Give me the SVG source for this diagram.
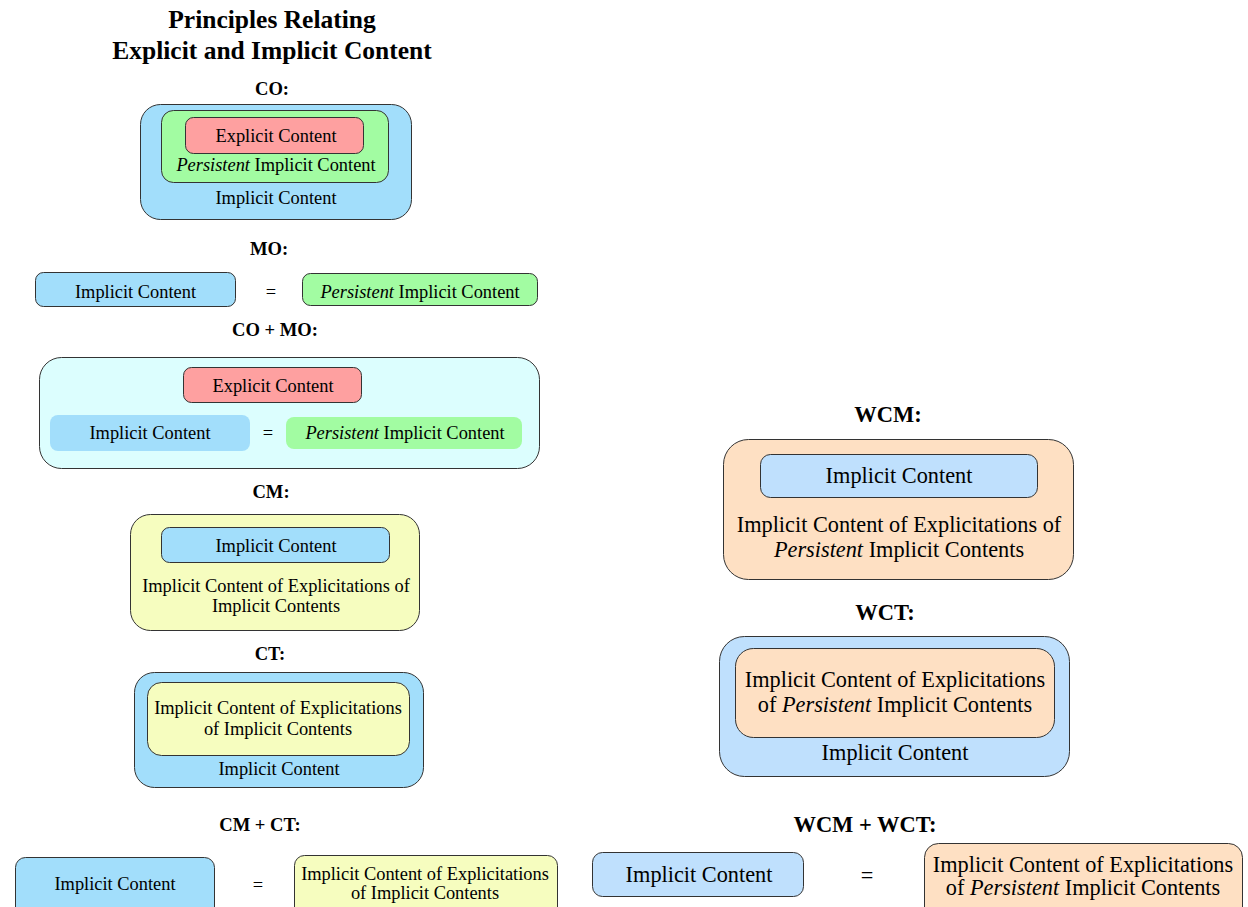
<svg xmlns="http://www.w3.org/2000/svg" width="1248" height="907" viewBox="0 0 1248 907">
<style>
text{font-family:"Liberation Serif","Times New Roman",serif;fill:#000;text-anchor:middle}
.t{font-size:25.5px;font-weight:bold}
.lb{font-size:18.6px;font-weight:bold}
.rb{font-size:22.5px;font-weight:bold}
.l{font-size:18.4px}
.r{font-size:22.3px}
.i{font-style:italic}
.s{stroke:#333;stroke-width:1}
.blue{fill:#a2defb}
.rblue{fill:#bfe0fd}
.green{fill:#a2fca2}
.red{fill:#fea0a0}
.yel{fill:#f6fdbf}
.cyan{fill:#dcfefe}
.peach{fill:#fee0c3}
</style>
<g id="title">
<text class="t" x="272" y="28">Principles Relating</text>
<text class="t" x="272" y="59">Explicit and Implicit Content</text>
</g>
<g id="co">
<text class="lb" x="272" y="95">CO:</text>
<rect class="s blue" x="140.5" y="104.5" width="271" height="115" rx="20"/>
<rect class="s green" x="161.5" y="110.5" width="227" height="72" rx="12"/>
<rect class="s red" x="185.5" y="117.5" width="178" height="36" rx="8"/>
<text class="l" x="276" y="142">Explicit Content</text>
<text class="l" x="276" y="171"><tspan class="i">Persistent</tspan> Implicit Content</text>
<text class="l" x="276" y="204">Implicit Content</text>
</g>
<g id="mo">
<text class="lb" x="269" y="255">MO:</text>
<rect class="s blue" x="35.5" y="272.5" width="200" height="34" rx="8"/>
<text class="l" x="135.5" y="298">Implicit Content</text>
<text class="l" x="271" y="298">=</text>
<rect class="s green" x="302.5" y="273.5" width="235" height="32" rx="8"/>
<text class="l" x="420" y="298"><tspan class="i">Persistent</tspan> Implicit Content</text>
</g>
<g id="co-mo">
<text class="lb" x="275" y="336">CO + MO:</text>
<rect class="s cyan" x="39.5" y="357.5" width="500" height="111" rx="22"/>
<rect class="s red" x="183.5" y="367.5" width="178" height="35" rx="8"/>
<text class="l" x="273" y="392">Explicit Content</text>
<rect class="blue" x="50" y="415" width="200" height="36" rx="8"/>
<text class="l" x="150" y="439">Implicit Content</text>
<text class="l" x="268" y="439">=</text>
<rect class="green" x="286" y="417" width="236" height="32" rx="8"/>
<text class="l" x="405" y="439"><tspan class="i">Persistent</tspan> Implicit Content</text>
</g>
<g id="cm">
<text class="lb" x="271" y="498">CM:</text>
<rect class="s yel" x="130.5" y="514.5" width="289" height="116" rx="20"/>
<rect class="s blue" x="161.5" y="527.5" width="228" height="35" rx="8"/>
<text class="l" x="276" y="552">Implicit Content</text>
<text class="l" x="276" y="592">Implicit Content of Explicitations of</text>
<text class="l" x="276" y="612">Implicit Contents</text>
</g>
<g id="ct">
<text class="lb" x="270" y="660">CT:</text>
<rect class="s blue" x="134.5" y="672.5" width="289" height="115" rx="20"/>
<rect class="s yel" x="147.5" y="682.5" width="262" height="73" rx="14"/>
<text class="l" x="278" y="714">Implicit Content of Explicitations</text>
<text class="l" x="278" y="735">of Implicit Contents</text>
<text class="l" x="279" y="775">Implicit Content</text>
</g>
<g id="cm-ct">
<text class="lb" x="260" y="831">CM + CT:</text>
<rect class="s blue" x="15.5" y="857.5" width="199" height="70" rx="10"/>
<text class="l" x="115" y="890">Implicit Content</text>
<text class="l" x="258" y="891">=</text>
<rect class="s yel" x="294.5" y="855.5" width="263" height="70" rx="10"/>
<text class="l" x="425" y="880">Implicit Content of Explicitations</text>
<text class="l" x="425" y="899">of Implicit Contents</text>
</g>
<g id="wcm">
<text class="rb" x="888" y="422">WCM:</text>
<rect class="s peach" x="723.5" y="439.5" width="350" height="140" rx="25"/>
<rect class="s rblue" x="760.5" y="454.5" width="277" height="43" rx="10"/>
<text class="r" x="899" y="483">Implicit Content</text>
<text class="r" x="899" y="532">Implicit Content of Explicitations of</text>
<text class="r" x="899" y="557"><tspan class="i">Persistent</tspan> Implicit Contents</text>
</g>
<g id="wct">
<text class="rb" x="885" y="620">WCT:</text>
<rect class="s rblue" x="719.5" y="636.5" width="350" height="140" rx="25"/>
<rect class="s peach" x="735.5" y="648.5" width="319" height="89" rx="18"/>
<text class="r" x="895" y="687">Implicit Content of Explicitations</text>
<text class="r" x="895" y="712">of <tspan class="i">Persistent</tspan> Implicit Contents</text>
<text class="r" x="895" y="760">Implicit Content</text>
</g>
<g id="wcm-wct">
<text class="rb" x="865" y="832">WCM + WCT:</text>
<rect class="s rblue" x="592.5" y="852.5" width="211" height="44" rx="10"/>
<text class="r" x="699" y="882">Implicit Content</text>
<text class="r" x="867" y="883">=</text>
<rect class="s peach" x="924.5" y="843.5" width="318" height="80" rx="14"/>
<text class="r" x="1083" y="872">Implicit Content of Explicitations</text>
<text class="r" x="1083" y="895">of <tspan class="i">Persistent</tspan> Implicit Contents</text>
</g>
<g id="connectors"/>
</svg>
